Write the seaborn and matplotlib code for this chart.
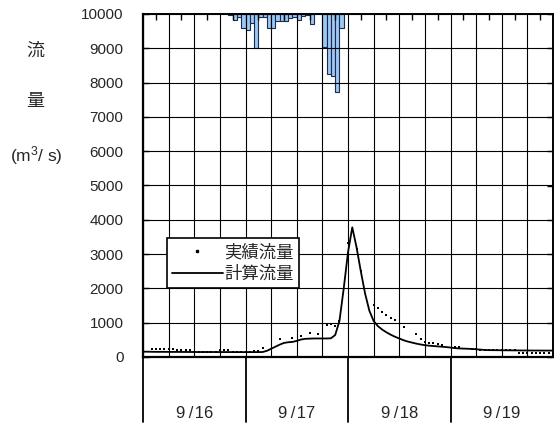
import numpy as np
import pandas as pd
import matplotlib
matplotlib.use("Agg")
import matplotlib.pyplot as plt
import matplotlib.transforms as mtransforms
from matplotlib.lines import Line2D
import seaborn as sns

# ---- data -------------------------------------------------------------
# hourly time axis, hours counted from 9/16 00:00
hours = list(range(97))

# computed discharge (m3/s)
calc_flow = [
    155, 155, 152, 150, 150, 150, 148, 148, 148, 147, 147,
    146, 146, 145, 145, 145, 145, 145, 144, 144, 144,
    143, 143, 143, 143, 143, 143, 143, 145,
    180, 240, 300, 360, 410, 430, 440, 470, 510, 530, 535,
    540, 540, 540, 540, 545, 640, 1050, 2000, 3050, 3780,
    3200, 2500, 1850, 1350, 1050, 900, 800, 720, 650, 590,
    540, 490, 450, 420, 390, 365, 345, 330, 320, 310,
    300, 290, 275, 260, 250, 245, 240, 235, 225, 215,
    205, 200, 200, 198, 196, 195, 194, 193, 192,
    190, 190, 189, 188, 188, 187, 187, 186,
]

# observed discharge (m3/s), NaN where no record
nan = np.nan
obs_flow = [
    nan, nan, 230, 230, 230, 230, 230, 230, 210, 210, 210,
    210, 150, 150, 150, 150, 150, 150, 205, 205, 205,
    150, 150, 150, 150, 150, 180, 180, 250,
    nan, nan, nan, 520, nan, nan, 540, nan, 600, nan, 690,
    nan, 680, nan, 920, 960, 900, 1060, nan, 3320, nan,
    3150, 2500, nan, nan, 1520, 1420, 1300, 1230, 1150, 1080,
    nan, 880, nan, nan, 670, 520, 450, 420, 400, 380,
    350, nan, nan, 300, 300, nan, nan, 240, 230, 215,
    200, 200, 200, 198, 196, 195, 194, 193, 120,
    120, 120, 120, 120, 120, 120, 120, 120,
]

# hourly rainfall (mm), hour at which each interval starts
rain_hours = [20, 21, 22, 23, 24, 25, 26, 27, 28, 29, 30, 31, 32, 33,
              34, 35, 36, 37, 38, 39, 42, 43, 44, 45, 46]
rain_mm = [0.3, 1.8, 0.9, 4.1, 4.7, 2.6, 9.9, 0.9, 0.9, 4.1, 4.1, 2.0, 2.0, 2.0,
           1.2, 0.9, 1.8, 0.6, 0.3, 2.9, 9.6, 17.5, 18.1, 22.8, 4.1]

day_labels = ["9\u2009/\u200a16", "9\u2009/\u200a17", "9\u2009/\u200a18", "9\u2009/\u200a19"]
flow_ticks = list(range(0, 10001, 1000))

# ---- style ------------------------------------------------------------
sns.set_theme(style="white")
plt.rcParams["font.family"] = ["Liberation Sans", "Noto Sans CJK JP", "DejaVu Sans"]
plt.rcParams["axes.edgecolor"] = "black"
plt.rcParams["mathtext.fontset"] = "custom"
plt.rcParams["mathtext.rm"] = "Liberation Sans"
plt.rcParams["mathtext.it"] = "Liberation Sans"
cjk = ["Noto Sans CJK JP", "Liberation Sans", "DejaVu Sans"]

W, H = 554, 425
fig = plt.figure(figsize=(W / 100, H / 100), dpi=100)
x0, x1, y_top, y_bot = 143, 553, 14, 357
ax = fig.add_axes([x0 / W, 1 - y_bot / H, (x1 - x0) / W, (y_bot - y_top) / H])

df = pd.DataFrame({"hour": hours, "calc": calc_flow, "obs": obs_flow})

sns.lineplot(data=df, x="hour", y="calc", color="black", linewidth=1.3, ax=ax, zorder=3)
sns.scatterplot(data=df, x="hour", y="obs", color="black", marker="s", s=4,
                linewidth=0, ax=ax, zorder=4)

ax.set_xlim(0, 96)
ax.set_ylim(0, 10000)
ax.set_xticks(range(0, 97, 6))
ax.set_xticklabels([])
ax.set_xticks(range(3, 96, 6), minor=True)
ax.set_yticks(flow_ticks)
ax.set_yticklabels([str(v) for v in flow_ticks])
ax.set_xlabel("")
ax.set_ylabel("")
ax.grid(True, which="major", color="black", linewidth=0.8)
ax.tick_params(axis="x", which="major", length=0)
ax.tick_params(axis="x", which="minor", direction="in", length=4, width=1,
               top=True, bottom=False, color="black")
ax.tick_params(axis="y", direction="in", length=4, width=1, left=True,
               pad=14, labelsize=11, color="black")
for s in ax.spines.values():
    s.set_linewidth(1.2)
ax.spines["left"].set_linewidth(1.6)
ax.spines["bottom"].set_linewidth(1.6)

# rainfall hanging from the top on an inverted twin axis
ax2 = ax.twinx()
rain_df = pd.DataFrame({"mid": [h + 0.5 for h in rain_hours], "rain": rain_mm})
sns.barplot(data=rain_df, x="mid", y="rain", native_scale=True, width=1,
            color="#9cc8f2", edgecolor="#1a2a50", linewidth=0.8,
            errorbar=None, ax=ax2, saturation=1)
ax2.set_xlim(0, 96)
ax2.set_ylim(100, 0)
ax2.set_yticks(range(0, 101, 10))
ax2.set_yticklabels([])
ax2.set_ylabel("")
ax2.tick_params(axis="y", direction="in", length=4, width=1, right=True, color="black")
ax2.grid(False)
for s in ax2.spines.values():
    s.set_linewidth(1.2)

# date row below the plot
trans = mtransforms.blended_transform_factory(ax.transData, ax.transAxes)
for d, lab in enumerate(day_labels):
    ax.plot([d * 24, d * 24], [0, -0.189], transform=trans, color="black",
            linewidth=1.3, clip_on=False)
    ax.text(d * 24 + 12, -0.166, lab, transform=trans, ha="center", va="center",
            fontsize=12)

# vertical axis title
fig.text(35 / W, 1 - 51 / H, "流", ha="center", va="center", fontsize=13, family=cjk)
fig.text(35 / W, 1 - 101 / H, "量", ha="center", va="center", fontsize=13, family=cjk)
fig.text(36 / W, 1 - 156 / H, r"(m$^{3}$/ s)", ha="center", va="center", fontsize=12.5)

# legend
handles = [Line2D([], [], marker="s", markersize=2, linestyle="none", color="black"),
           Line2D([], [], color="black", linewidth=1.3)]
leg = ax.legend(handles, ["実績流量", "計算流量"], loc="upper left",
                bbox_to_anchor=((167 - x0) / (x1 - x0), (y_bot - 238) / (y_bot - y_top)),
                borderaxespad=0, frameon=True, fancybox=False, framealpha=1,
                edgecolor="black", handlelength=2.9, handletextpad=0.1,
                labelspacing=0.2, borderpad=0.3, prop={"family": cjk, "size": 12.5})
leg.get_frame().set_linewidth(1.2)
leg.set_zorder(10)
ax.set_zorder(ax2.get_zorder() + 1)
ax.patch.set_visible(False)

fig.savefig("out.png", dpi=100)
